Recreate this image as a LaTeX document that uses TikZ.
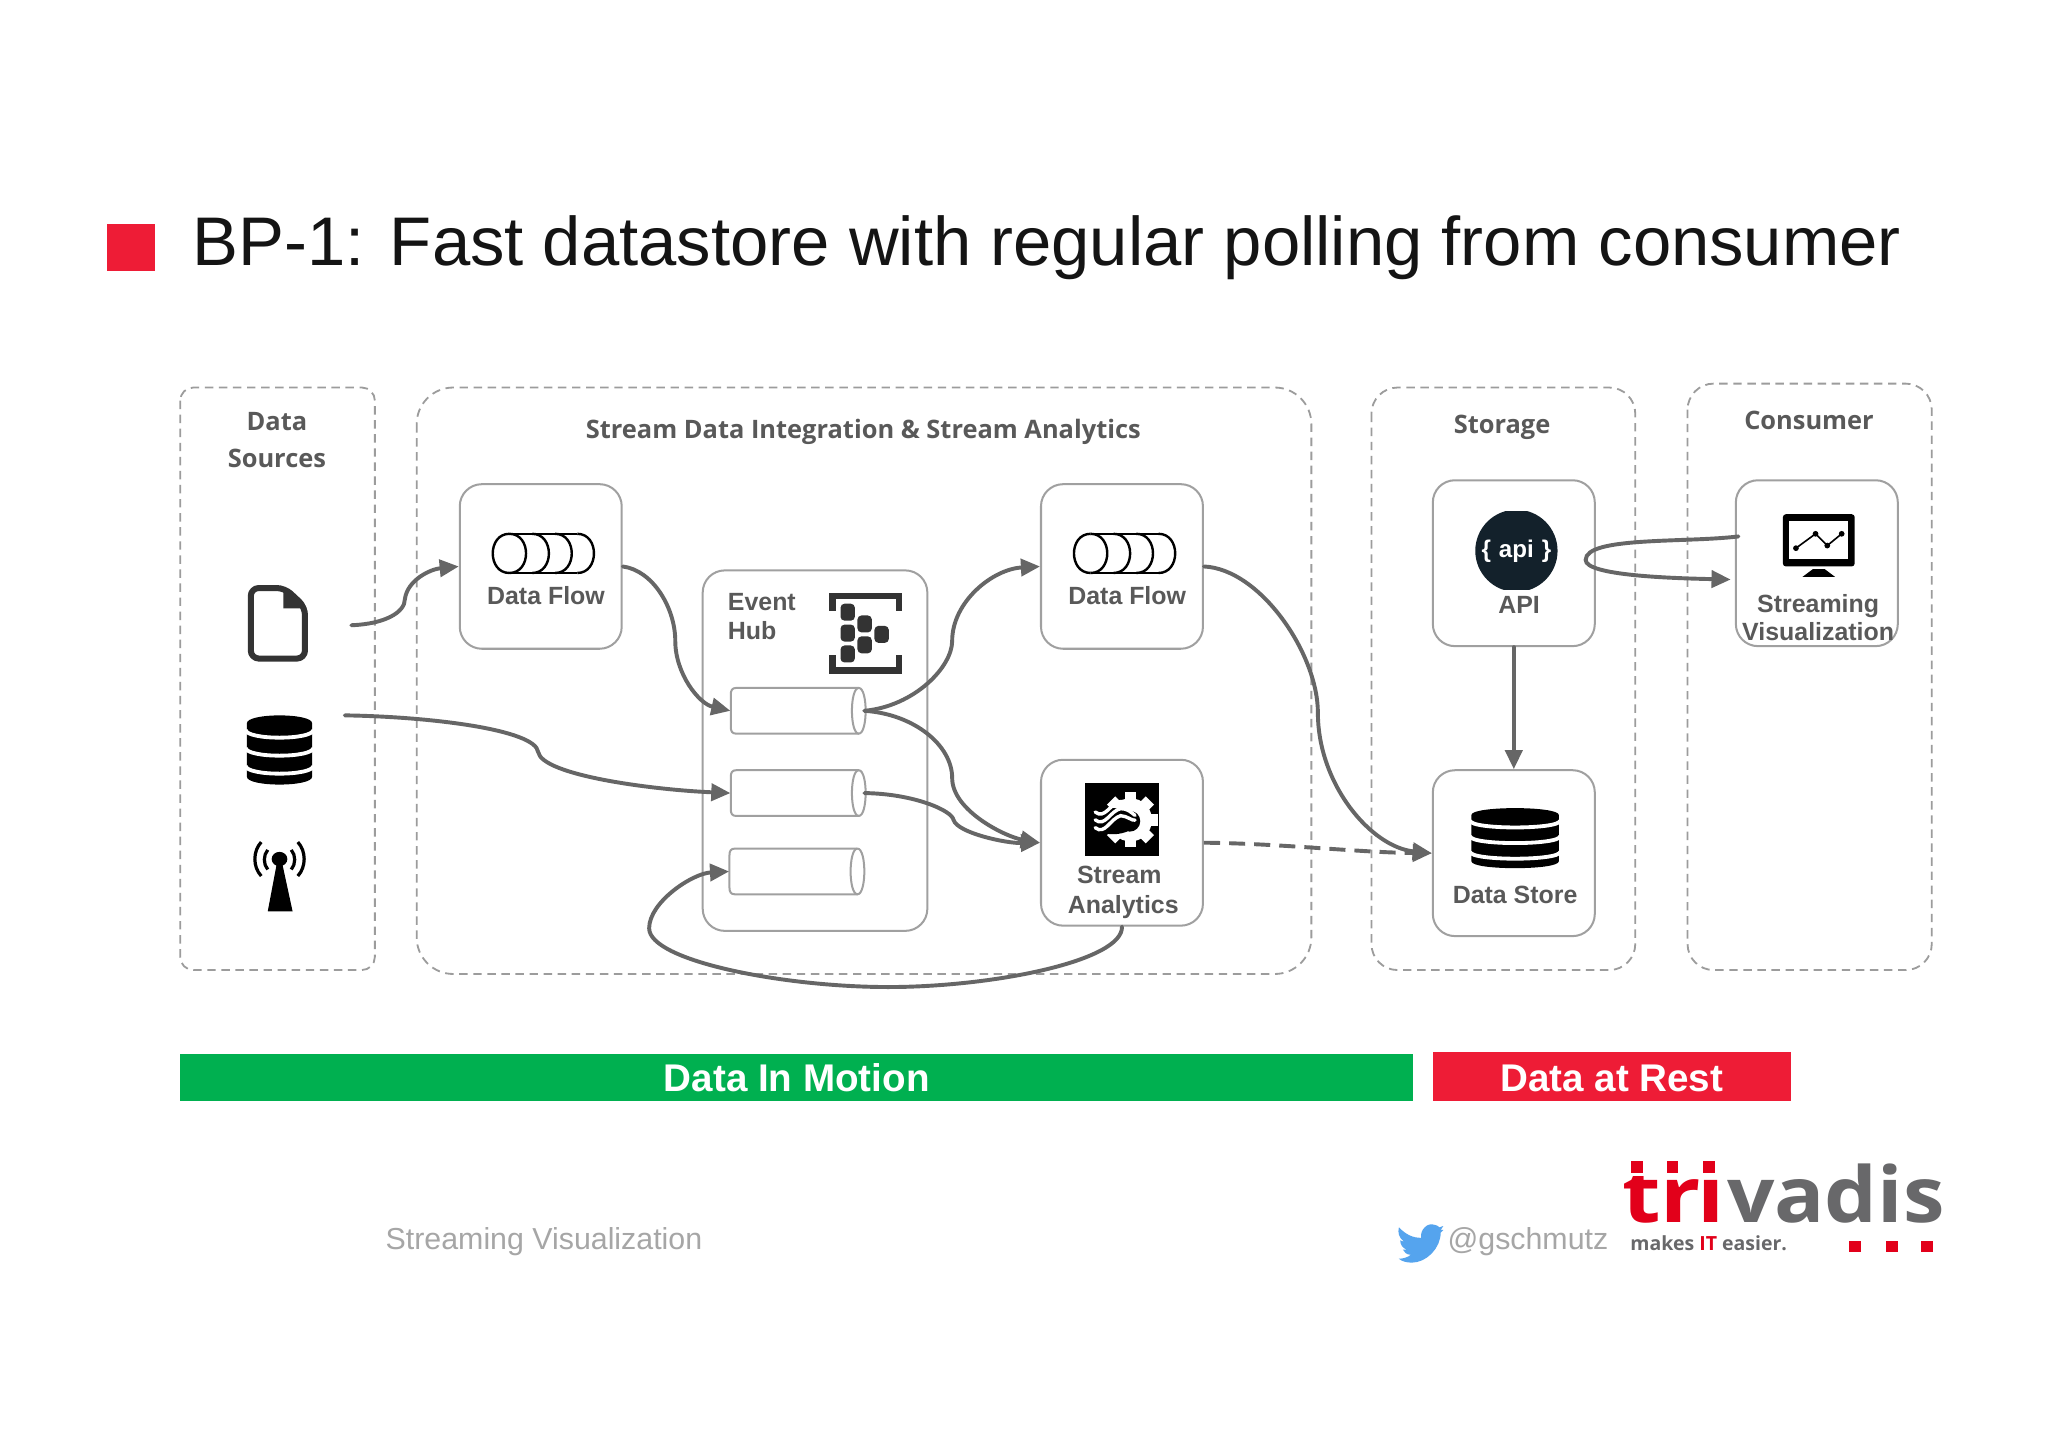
\documentclass[tikz,border=0pt]{standalone}
\usepackage{fontspec}
\usepackage{graphicx}
\setmainfont{Liberation Sans}
\newfontfamily\opensans{Open Sans}
\usetikzlibrary{arrows.meta,calc}
\definecolor{tred}{HTML}{EE1C36}
\definecolor{tgreen}{HTML}{00B050}
\definecolor{lbl}{HTML}{595959}
\definecolor{conn}{HTML}{666666}
\definecolor{grp}{HTML}{9C9C9C}
\definecolor{bxc}{HTML}{A0A0A0}
\definecolor{lred}{HTML}{E2001A}
\definecolor{lgray}{HTML}{68686A}
\definecolor{ftr}{HTML}{A6A6A6}
\definecolor{apic}{HTML}{13212B}
\definecolor{birdc}{HTML}{55A4EE}
\tikzset{
  x=0.65pt,y=-0.65pt,
  grouptitle/.style={font=\opensans\bfseries\fontsize{12.65}{16}\selectfont,text=lbl,anchor=base,inner sep=0},
  nodelabel/.style={font=\bfseries\fontsize{12.4}{15}\selectfont,text=lbl,anchor=base,inner sep=0},
  groupbox/.style={draw=grp,line width=0.9pt,dash pattern=on 4.2pt off 2.8pt},
  nodebox/.style={draw=bxc,line width=1pt,rounded corners=11pt,fill=white,inner sep=0},
  flow/.style={draw=conn,line width=1.95pt,line cap=round,-{Triangle[length=9.5pt,width=8.5pt]}},
  barlabel/.style={font=\bfseries\fontsize{19.2}{22}\selectfont,text=white,anchor=base,inner sep=0},
  footer/.style={font=\fontsize{15.1}{18}\selectfont,text=ftr,anchor=base west,inner sep=0},
  logotext/.style={font=\opensans\bfseries\fontsize{38.4}{40}\selectfont,anchor=base west,inner sep=0},
}
% name, x1, y1, x2, y2
\newcommand{\bxnode}[5]{\node[nodebox,minimum width={(#4-#2)*0.65pt},minimum height={(#5-#3)*0.65pt}] (#1) at ({(#2+#4)/2},{(#3+#5)/2}) {};}
\newcommand{\grpbox}[6]{\draw[groupbox,rounded corners=#6*0.65pt] (#2,#3) rectangle (#4,#5);}
% database icon: cx, top, rx, height
\newcommand{\dbicon}[4]{%
  \pgfmathsetmacro{\dbry}{#4*0.115}%
  \fill[black] ({#1-#3},{#2+\dbry}) .. controls ({#1-#3},{#2-\dbry*0.33}) and ({#1+#3},{#2-\dbry*0.33}) .. ({#1+#3},{#2+\dbry})
    -- ({#1+#3},{#2+#4-\dbry}) .. controls ({#1+#3},{#2+#4+\dbry*0.33}) and ({#1-#3},{#2+#4+\dbry*0.33}) .. ({#1-#3},{#2+#4-\dbry}) -- cycle;
  \foreach \f in {0.21,0.47,0.73}{%
    \draw[white,line width=1.9pt] ({#1-#3-1},{#2+#4*\f}) .. controls ({#1-#3},{#2+#4*\f+\dbry*1.3}) and ({#1+#3},{#2+#4*\f+\dbry*1.3}) .. ({#1+#3+1},{#2+#4*\f});}%
}
% flow icon: left centre x, centre y
\newcommand{\flowicon}[2]{%
  \draw[black,line width=1.05pt] (#1,{#2-15}) -- ({#1+52},{#2-15}) (#1,{#2+15}) -- ({#1+52},{#2+15});
  \foreach \d in {0,17.5,35,52}{%
    \draw[black,line width=1.2pt] ({#1+\d},{#2-15}) .. controls ({#1+\d+17},{#2-15}) and ({#1+\d+17},{#2+15}) .. ({#1+\d},{#2+15});}%
  \draw[black,line width=1.2pt] (#1,{#2-15}) .. controls ({#1-17},{#2-15}) and ({#1-17},{#2+15}) .. (#1,{#2+15});
}
% queue cylinder: name, x1, y1, x2, y2
\newcommand{\queue}[5]{%
  \node[draw=none,inner sep=0,minimum width={(#4-#2)*0.65pt},minimum height={(#5-#3)*0.65pt}] (#1) at ({(#2+#4)/2},{(#3+#5)/2}) {};
  \draw[bxc,line width=1pt,fill=white] ({#4-4},#3) -- ({#2+4},#3) .. controls ({#2+1},#3) and (#2,{#3+2}) .. (#2,{#3+5})
    -- (#2,{#5-5}) .. controls (#2,{#5-2}) and ({#2+1},#5) .. ({#2+4},#5) -- ({#4-4},#5);
  \draw[bxc,line width=1pt] ({#4-4},#3) .. controls ({#4-11},#3) and ({#4-11},#5) .. ({#4-4},#5)
    .. controls ({#4+3},#5) and ({#4+3},#3) .. ({#4-4},#3);
}
\begin{document}
\begin{tikzpicture}
\useasboundingbox (0,-0.7) rectangle (1568,1107.1);
\fill[white] (0,-0.7) rectangle (1568,1107.1);
% title
\fill[tred] (82,170.5) rectangle (119,206.5);
\node[font=\fontsize{34.25}{40}\selectfont,text=black!92,anchor=base west,inner sep=0] (title) at (147,202.5) {BP-1: Fast datastore with regular polling from consumer};
% groups
\grpbox{gsrc}{138}{296}{287}{742}{10}
\grpbox{gstream}{319}{296}{1004}{745}{28}
\grpbox{gstore}{1050}{296}{1252}{742}{20}
\grpbox{gcons}{1292}{293}{1479}{742}{20}
\node[grouptitle] (tsrc1) at (212,329) {Data};
\node[grouptitle] (tsrc2) at (212,357) {Sources};
\node[grouptitle] (tstream) at (661,335) {Stream Data Integration \& Stream Analytics};
\node[grouptitle] (tstore) at (1150,331) {Storage};
\node[grouptitle] (tcons) at (1385,328) {Consumer};
% boxes
\bxnode{dfa}{352}{370}{476}{496}
\bxnode{hub}{538}{436}{710}{712}
\bxnode{dfb}{797}{370}{921}{496}
\bxnode{sa}{797}{581}{921}{708}
\bxnode{api}{1097}{367}{1221}{494}
\bxnode{ds}{1097}{589}{1221}{716}
\bxnode{sv}{1329}{367}{1453}{494}
\queue{qa}{559.5}{526}{661.5}{561}
\queue{qb}{559.5}{589}{661.5}{624}
\queue{qc}{558.5}{649}{660.5}{684}
% labels
\node[nodelabel] (ldfa) at (418,462) {Data Flow};
\node[nodelabel] (ldfb) at (863,462) {Data Flow};
\node[nodelabel,anchor=base west] (lhub1) at (557,467) {Event};
\node[nodelabel,anchor=base west] (lhub2) at (557,489) {Hub};
\node[nodelabel] (lsa1) at (857,676) {Stream};
\node[nodelabel] (lsa2) at (860,699) {Analytics};
\node[nodelabel] (lapi) at (1163,469) {API};
\node[nodelabel] (lds) at (1160,691) {Data Store};
\node[nodelabel] (lsv1) at (1392,468) {Streaming};
\node[nodelabel] (lsv2) at (1392,490) {Visualization};
% flow icons
\flowicon{390}{423}
\flowicon{835}{423}
% file icon
\draw[draw=black!80,line width=3pt,line join=round,rounded corners=4pt] (192,449.5) -- (218,449.5) -- (233.5,464) -- (233.5,503.5) -- (192,503.5) -- cycle;
\fill[black!80] (217,449) -- (235,465) -- (217,465) -- cycle;
% databases
\dbicon{214}{547}{25}{53}
\dbicon{1160}{618}{33.5}{46}
% antenna
\fill[black] (205,697) -- (224,697) -- (216,660) -- (212,660) -- cycle;
\fill[black] (214,657) ellipse [x radius=6,y radius=5.5];
\draw[black,line width=1.6pt] (205,650) .. controls (201.5,654) and (201.5,661) .. (205,665);
\draw[black,line width=1.6pt] (223,650) .. controls (226.5,654) and (226.5,661) .. (223,665);
\draw[black,line width=1.6pt] (200,644) .. controls (193.5,651) and (193.5,663) .. (200,670);
\draw[black,line width=1.6pt] (228,644) .. controls (234.5,651) and (234.5,663) .. (228,670);
% event hub icon
\draw[black!80,line width=3.2pt,line cap=butt] (637.5,467) -- (637.5,455.5) -- (688.5,455.5) -- (688.5,467);
\draw[black!80,line width=3.2pt,line cap=butt] (637.5,501) -- (637.5,512.5) -- (688.5,512.5) -- (688.5,501);
\foreach \cx/\cy in {649/468,649/484,649/500,662/477,662/493,675/485}{
  \fill[black!80,rounded corners=2pt] ({\cx-5.5},{\cy-6.5}) rectangle ({\cx+5.5},{\cy+6.5});}
% stream analytics icon
\fill[black] (831,599) rectangle (887,655);
\foreach \a in {0,45,135,180,225,270,315}{
  \fill[white,rotate around={\a:(865.5,627)}] (861,606) rectangle (870,614);}
\fill[white] (865.5,627) circle (16.5);
\fill[black] (852,628) ellipse [x radius=18,y radius=10];
\fill[black] (865,628) circle (8);
\foreach \d in {0,6,12}{
  \draw[white,line width=1.7pt,line cap=round] (838.5,{621+\d}) .. controls (846,{627+\d}) and (850,{614+\d}) .. (858,{613+\d*0.9}) .. controls (863,{612+\d}) and (867,{616+\d}) .. (869,{620+\d*0.6});}
% api icon
\begin{scope}
  \clip (1125,391) rectangle (1197,451);
  \fill[apic] (1161,421) circle (31.5);
\end{scope}
\node[font=\bfseries\fontsize{12}{14}\selectfont,text=white,inner sep=0] (apitxt) at (1161,421) {\{\,\,api\,\,\}};
% monitor icon
\fill[black,rounded corners=1.5pt] (1365,393) rectangle (1420,433);
\fill[white] (1370,398) rectangle (1415,427);
\fill[black] (1380,441) -- (1405,441) -- (1397,435) -- (1388,435) -- cycle;
\draw[black,line width=0.8pt] (1375,419) -- (1390,408) -- (1399,417) -- (1410,408);
\foreach \px/\py in {1375/419,1390/408,1399/417,1410/408}{\fill[black] (\px,\py) circle (2.2);}
% named connector ends
\coordinate (filep) at (269,478);
\coordinate (dbp) at (264,547);
\coordinate (svout) at (1331,410);
\coordinate (svin) at (1325,443);
% connectors
\draw[flow] (filep) .. controls (295,477) and (310,468) .. (310,458) .. controls (312,443) and (330,435) .. (dfa.west);
\draw[flow] (dfa.east) .. controls (500,436) and (517,465) .. (517,490) .. controls (517,515) and (535,538) .. (qa.west);
\draw[flow] (dbp) .. controls (330,548) and (410,558) .. (412,575) .. controls (415,593) and (500,604) .. (qb.west);
\draw[flow] (qa.east) .. controls (700,540) and (729,510) .. (729,490) .. controls (729,460) and (760,435) .. (dfb.west);
\draw[flow] (qa.east) .. controls (700,546) and (729,570) .. (729,595) .. controls (729,620) and (770,640) .. (sa.west);
\draw[flow] (qb.east) .. controls (700,607) and (729,620) .. (730,627) .. controls (733,637) and (770,645) .. (sa.west);
\draw[flow] (sa.south) .. controls (860,735) and (760,755) .. (680,755) .. controls (600,755) and (497,735) .. (497,710) .. controls (497,690) and (530,668) .. (qc.west);
\draw[flow] (dfb.east) .. controls (965,435) and (1009,500) .. (1009,545) .. controls (1009,600) and (1050,648) .. (ds.west);
\draw[flow,line cap=butt,dash pattern=on 8pt off 4.5pt] (sa.east) .. controls (980,645) and (1040,652) .. (ds.west);
\draw[flow] (api.south) -- (ds.north);
\draw[flow] (svout) .. controls (1290,415) and (1214,410) .. (1214,428) .. controls (1214,440) and (1280,442) .. (svin);
% bars
\fill[tgreen] (138,806) rectangle (1082,842);
\fill[tred] (1097,805) rectangle (1371,842);
\node[barlabel] (bara) at (610,835) {Data In Motion};
\node[barlabel] (barb) at (1234,835) {Data at Rest};
% footer
\node[footer] (foot) at (295,956) {Streaming Visualization};
\node[footer] (tw) at (1108,956) {@gschmutz};
\fill[birdc] (1071,939) .. controls (1077,945) and (1082,947) .. (1088,947) .. controls (1087,941) and (1093,935) .. (1098,937) .. controls (1100,937) and (1101,938) .. (1102,939) -- (1105,938) -- (1103,941) -- (1105,941) -- (1103,943) .. controls (1103,955) and (1092,966) .. (1081,966) .. controls (1077,966) and (1073,965) .. (1071,963) .. controls (1074,963) and (1078,962) .. (1080,960) .. controls (1077,960) and (1075,958) .. (1074,956) -- (1077,956) .. controls (1074,955) and (1072,952) .. (1072,949) -- (1075,950) .. controls (1071,947) and (1070,943) .. (1071,939) -- cycle;
% logo
\node[logotext,text=lred] (logot) at (1242,935) {\scalebox{1.15}[1]{t}};
\node[logotext,text=lred] (logor) at (1271,935) {\scalebox{1.15}[1]{r}};
\node[logotext,text=lred] (logoi) at (1299,935) {\scalebox{1.15}[1]{i}};
\fill[white] (1240,880) rectangle (1318,900);
\foreach \sx in {1249,1276,1304}{\fill[lred] (\sx,888) rectangle ({\sx+9},897);}
\node[logotext,text=lgray] (logov) at (1322,935) {\scalebox{1.08}[1]{vadis}};
\node[font=\opensans\bfseries\fontsize{9.7}{11}\selectfont,text=lgray,anchor=base west,inner sep=0] (slogan) at (1248,957) {makes \textcolor{lred}{IT} easier.};
\foreach \sx in {1416,1444,1471}{\fill[lred] (\sx,949.5) rectangle ({\sx+9},957.5);}
\end{tikzpicture}
\end{document}
